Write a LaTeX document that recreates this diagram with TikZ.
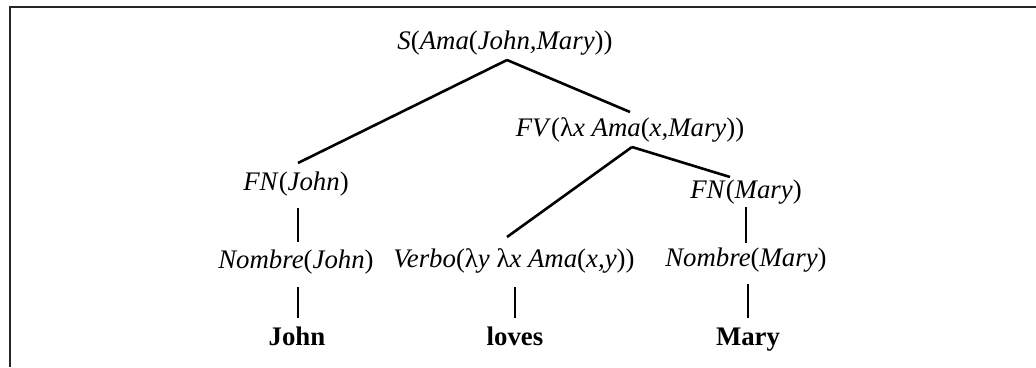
\documentclass[tikz,border=0pt]{standalone}
\usepackage{fontspec}
\setmainfont{Liberation Serif}
\newcommand{\Lp}{\textup{(}}
\newcommand{\Rp}{\textup{)}}
\newcommand{\lam}{\textup{λ}}
\begin{document}
\begin{tikzpicture}[x=1pt,y=-1pt,
  lbl/.style={inner sep=0pt, text height=19pt, text depth=6pt, font=\fontsize{26.8pt}{32pt}\selectfont\itshape},
  word/.style={inner sep=0pt, text height=19pt, text depth=6pt, font=\fontsize{26.8pt}{32pt}\selectfont\bfseries},
  edge/.style={line width=2.6pt, line cap=butt},
  frame/.style={line width=2pt, black!85}]
\useasboundingbox (0,0) rectangle (1036,367);
\draw[frame] (10,367) -- (10,7) -- (1036,7);
\node[lbl] (S) at (505,43) {S\Lp Ama\Lp John,Mary\Rp\Rp};
\node[lbl] (FV) at (630,130) {FV\Lp\lam x Ama\Lp x,Mary\Rp\Rp};
\node[lbl] (FNJ) at (296,184) {FN\Lp John\Rp};
\node[lbl] (FNM) at (746,192) {FN\Lp Mary\Rp};
\node[lbl] (NJ) at (296,262) {Nombre\Lp John\Rp};
\node[lbl] (V) at (514,261) {Verbo\Lp\lam y \lam x Ama\Lp x,y\Rp\Rp};
\node[lbl] (NM) at (746,260) {Nombre\Lp Mary\Rp};
\node[word] (J) at (297,339) {John};
\node[word] (L) at (515,339) {loves};
\node[word] (M) at (748,339) {Mary};
\draw[edge] ([xshift=2pt,yshift=-17pt]S.center) -- ([xshift=2pt,yshift=21pt]FNJ.center);
\draw[edge] ([xshift=2pt,yshift=-17pt]S.center) -- ([yshift=18pt]FV.center);
\draw[edge] ([xshift=2pt,yshift=-17pt]FV.center) -- ([xshift=-7pt,yshift=24pt]V.center);
\draw[edge] ([xshift=2pt,yshift=-17pt]FV.center) -- ([xshift=-16pt,yshift=15pt]FNM.center);
\draw[edge] ([xshift=2pt,yshift=-24pt]FNJ.center) -- ([xshift=2pt,yshift=20pt]NJ.center);
\draw[edge] ([xshift=2pt,yshift=-25pt]NJ.center) -- ([xshift=1pt,yshift=21pt]J.center);
\draw[edge] ([xshift=1pt,yshift=-26pt]V.center) -- ([yshift=21pt]L.center);
\draw[edge] ([yshift=-15pt]FNM.center) -- ([yshift=17pt]NM.center);
\draw[edge] ([xshift=2pt,yshift=-24pt]NM.center) -- ([yshift=21pt]M.center);
\end{tikzpicture}
\end{document}
